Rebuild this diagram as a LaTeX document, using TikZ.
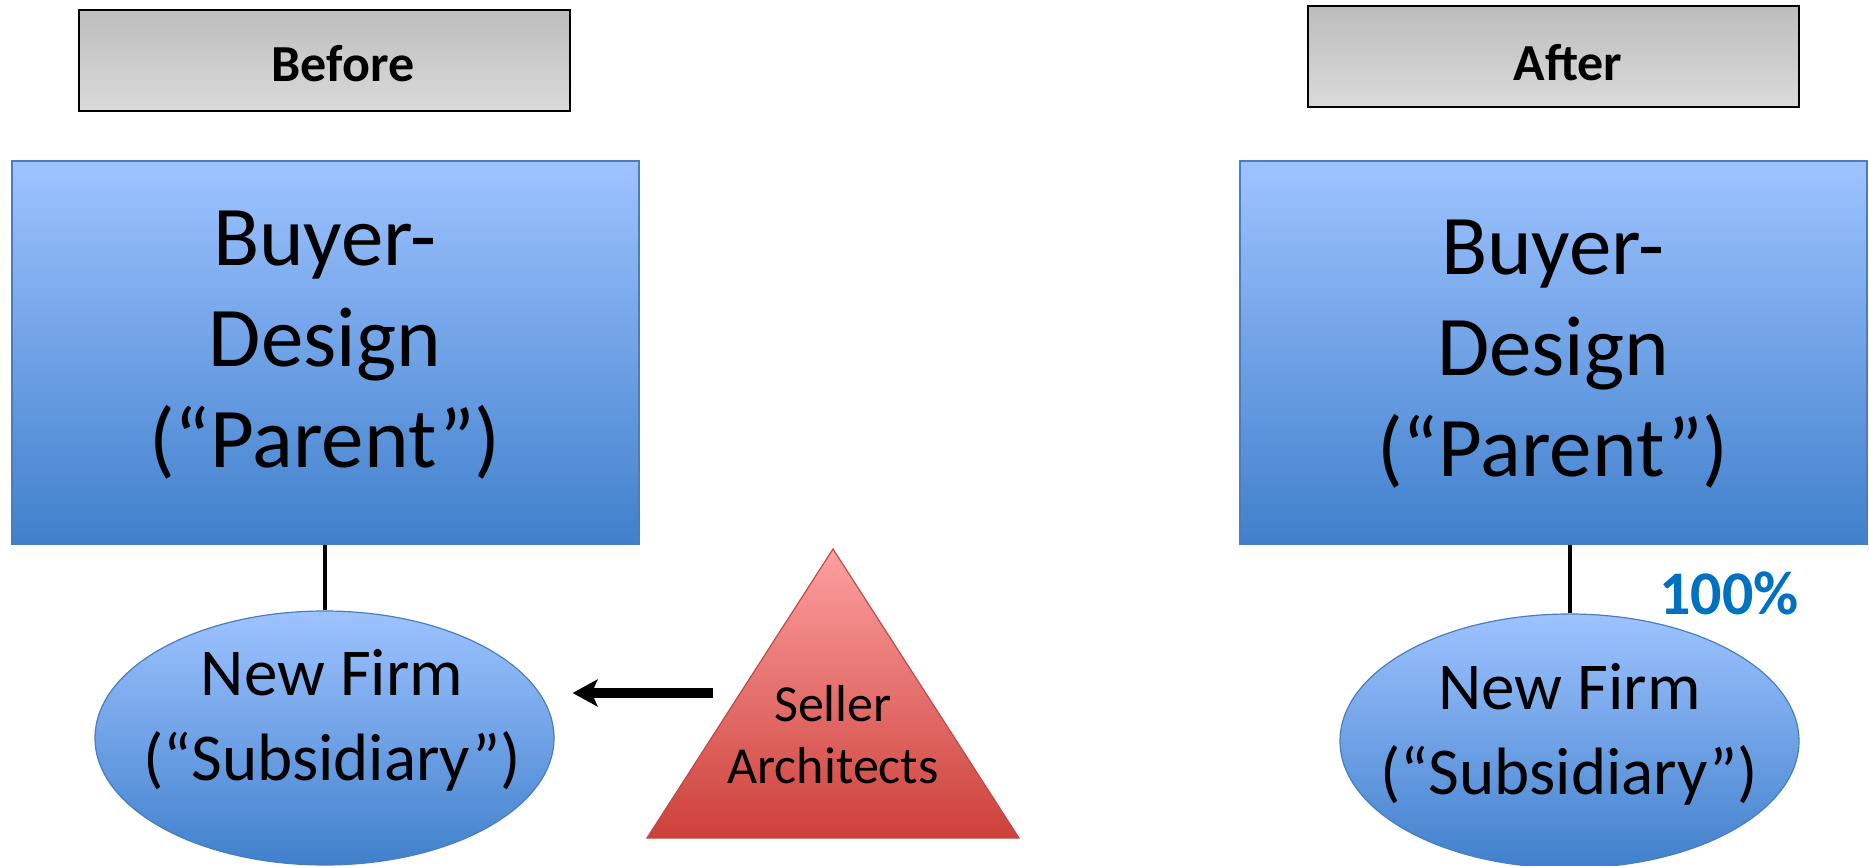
\documentclass[tikz,border=0pt]{standalone}
\usepackage{fontspec}
\setmainfont{Carlito}
\usetikzlibrary{arrows.meta,shapes.geometric}

\definecolor{hdrtop}{RGB}{189,189,189}
\definecolor{hdrbot}{RGB}{218,218,218}
\definecolor{bluetop}{RGB}{158,195,255}
\definecolor{bluebot}{RGB}{64,128,204}
\definecolor{blueedge}{RGB}{74,126,187}
\definecolor{redtop}{RGB}{252,160,160}
\definecolor{redbot}{RGB}{205,64,58}
\definecolor{rededge}{RGB}{190,75,72}
\definecolor{pctblue}{RGB}{0,112,192}

\tikzset{
  header/.style={draw=black, line width=1pt, top color=hdrtop, bottom color=hdrbot,
    minimum width=245.5pt, minimum height=50.5pt, inner sep=0pt},
  entity/.style={draw=blueedge, line width=0.6pt, top color=bluetop, bottom color=bluebot,
    minimum width=313.5pt, minimum height=191.5pt, inner sep=0pt},
  firm/.style={ellipse, draw=blueedge, line width=0.6pt, top color=bluetop, bottom color=bluebot,
    minimum width=229.5pt, minimum height=127pt, inner sep=0pt},
  sellershape/.style={draw=rededge, line width=0.6pt, top color=redtop, bottom color=redbot},
  hdrtext/.style={font=\bfseries\fontsize{26}{31}\selectfont, inner sep=0pt, anchor=north},
  bigtext/.style={font=\fontsize{42.5}{50.5}\selectfont, align=center, inner sep=0pt, anchor=north},
  firmtext/.style={font=\fontsize{33.5}{42.5}\selectfont, align=center, inner sep=0pt, anchor=north},
  sellertext/.style={font=\fontsize{26}{31}\selectfont, align=center, inner sep=0pt, anchor=north},
  pcttext/.style={font=\bfseries\fontsize{31}{37}\selectfont, text=pctblue, inner sep=0pt, anchor=north},
  link/.style={draw=black, line width=2pt},
  push/.style={draw=black, line width=5pt, -{Stealth[length=12.5pt,width=13.5pt,inset=3pt]}}
}

\begin{document}
\begin{tikzpicture}[x=0.5pt, y=-0.5pt]
  \useasboundingbox (0,0) rectangle (1869,866);

  % --- Before side ---
  \node[header] (before) at (324.5,60.5) {};
  \node[hdrtext] (beforelbl) at (343,45) {Before};

  \node[entity] (leftparent) at (325.5,352.5) {};
  \node[bigtext] (leftparentlbl) at (325,211) {Buyer-\\Design\\(“Parent”)};

  \node[firm] (leftfirm) at (324.5,738) {};
  \node[firmtext] (leftfirmlbl) at (332,649) {New Firm\\(“Subsidiary”)};

  \draw[link] (leftparent.south -| leftfirm.north) -- (leftfirm.north);

  % seller triangle
  \coordinate (apex) at (833,549);
  \coordinate (baseright) at (1019,838);
  \coordinate (baseleft) at (647,838);
  \path[sellershape] (apex) -- (baseright) -- (baseleft) -- cycle;
  \node[sellertext] (seller) at (833,685) {Seller\\Architects};

  \coordinate (arrtail) at (713,693);
  \draw[push, shorten >=9pt] (arrtail) -- (arrtail -| leftfirm.east);

  % --- After side ---
  \node[header] (after) at (1553.5,57) {};
  \node[hdrtext] (afterlbl) at (1568,44) {After};

  \node[entity] (rightparent) at (1553.5,352.5) {};
  \node[bigtext] (rightparentlbl) at (1553,220) {Buyer-\\Design\\(“Parent”)};

  \node[firm] (rightfirm) at (1569.5,741) {};
  \node[firmtext] (rightfirmlbl) at (1569.5,663) {New Firm\\(“Subsidiary”)};

  \draw[link] (rightparent.south -| rightfirm.north) -- (rightfirm.north);
  \node[pcttext] (pct) at (1729,571) {100\%};
\end{tikzpicture}
\end{document}
